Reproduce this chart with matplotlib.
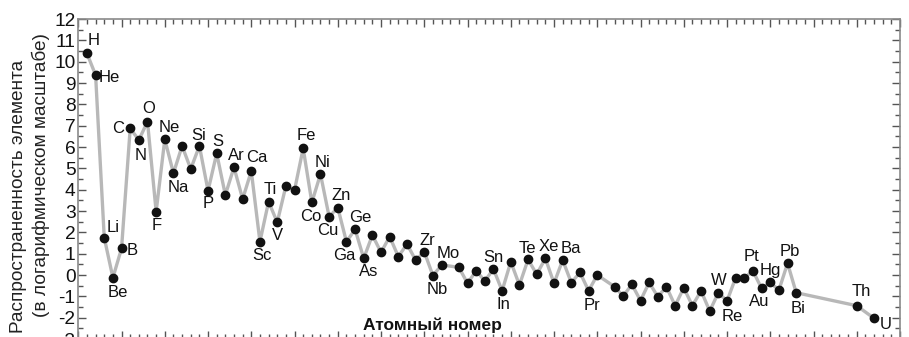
import numpy as np
import matplotlib as mpl
mpl.use("Agg")
import matplotlib.pyplot as plt
from matplotlib.ticker import MultipleLocator

# atomic number, symbol, log abundance
z = [1, 2, 3, 4, 5, 6, 7, 8, 9, 10, 11, 12, 13, 14, 15, 16, 17, 18, 19, 20,
     21, 22, 23, 24, 25, 26, 27, 28, 29, 30, 31, 32, 33, 34, 35, 36, 37, 38, 39, 40,
     41, 42, 44, 45, 46, 47, 48, 49, 50, 51, 52, 53, 54, 55, 56, 57, 58, 59, 60,
     62, 63, 64, 65, 66, 67, 68, 69, 70, 71, 72, 73, 74, 75, 76, 77, 78, 79, 80,
     81, 82, 83, 90, 92]
symbols = ["H", "He", "Li", "Be", "B", "C", "N", "O", "F", "Ne", "Na", "Mg", "Al", "Si",
           "P", "S", "Cl", "Ar", "K", "Ca", "Sc", "Ti", "V", "Cr", "Mn", "Fe", "Co", "Ni",
           "Cu", "Zn", "Ga", "Ge", "As", "Se", "Br", "Kr", "Rb", "Sr", "Y", "Zr", "Nb",
           "Mo", "Ru", "Rh", "Pd", "Ag", "Cd", "In", "Sn", "Sb", "Te", "I", "Xe", "Cs",
           "Ba", "La", "Ce", "Pr", "Nd", "Sm", "Eu", "Gd", "Tb", "Dy", "Ho", "Er", "Tm",
           "Yb", "Lu", "Hf", "Ta", "W", "Re", "Os", "Ir", "Pt", "Au", "Hg", "Tl", "Pb",
           "Bi", "Th", "U"]
abund = [10.39, 9.37, 1.75, -0.13, 1.25, 6.87, 6.33, 7.19, 2.97, 6.36, 4.77, 6.05, 4.97,
         6.05, 3.95, 5.70, 3.75, 5.05, 3.56, 4.87, 1.56, 3.44, 2.47, 4.17, 3.98, 5.94,
         3.40, 4.73, 2.73, 3.16, 1.56, 2.14, 0.78, 1.87, 1.06, 1.80, 0.86, 1.45, 0.70,
         1.09, -0.03, 0.47, 0.36, -0.39, 0.20, -0.28, 0.28, -0.74, 0.62, -0.47, 0.73,
         0.03, 0.78, -0.39, 0.70, -0.36, 0.12, -0.74, 0.00, -0.55, -0.99, -0.44, -1.20,
         -0.35, -1.02, -0.55, -1.44, -0.60, -1.44, -0.74, -1.69, -0.83, -1.22, -0.13,
         -0.13, 0.19, -0.63, -0.35, -0.71, 0.55, -0.83, -1.44, -2.03]

ytick_vals = list(range(-3, 13))
ytick_labels = [str(v) for v in ytick_vals]  # plain hyphen, as in the original

# label offsets in pixels (dx, dy), only the labelled elements
label_offsets = {
    "H": (6.5, 12.6), "He": (14, -2.7), "Li": (9, 9.7), "Be": (4.6, -14.3),
    "B": (11, -1.7), "C": (-12, 0), "N": (2, -15.8), "O": (0.8, 13.4),
    "F": (0.5, -14.3), "Ne": (4.2, 11.8), "Na": (4.5, -14.7), "Si": (-1, 10.2),
    "P": (0, -12.6), "S": (1, 11.6), "Ar": (2.7, 11.5), "Ca": (5.4, 13.5),
    "Sc": (2.5, -13.3), "Ti": (1.4, 11.7), "V": (0, -13.5), "Fe": (3.5, 12.5),
    "Co": (-1, -13.7), "Ni": (2, 11.5), "Cu": (-1, -13.3), "Zn": (3, 11.9),
    "Ga": (-2.5, -13.3), "Ge": (5, 11.8), "As": (4.5, -13.4), "Zr": (3.2, 10.9),
    "Nb": (4.5, -14.3), "Mo": (6.7, 11.7), "Sn": (-17.5, 4.2), "In": (1.7, -13.3),
    "Te": (-0.6, 11), "Xe": (3.6, 11.6), "Ba": (8.1, 11.7), "Pr": (3.8, -15.1),
    "W": (0, 12.7), "Re": (5.5, -15.7), "Pt": (-1.3, 14.3), "Au": (-2.6, -13.4),
    "Hg": (0.5, 12.3), "Pb": (2.4, 11.6), "Bi": (2, -15.6), "Th": (4.9, 14),
    "U": (11.7, -5.7),
}

plt.rcParams['font.family'] = ['Liberation Sans', 'DejaVu Sans']

W, H = 909, 337
fig = plt.figure(figsize=(W / 100, H / 100), dpi=100)
ax = fig.add_axes([78.3 / W, -2 / H, (900 - 78.3) / W, 320 / H])

ax.plot(z, abund, color='#b8b8b8', linewidth=2.4, zorder=2)
ax.plot(z, abund, linestyle='none', marker='o', markersize=6.0,
        color='#111111', zorder=3)

for zi, sym, v in zip(z, symbols, abund):
    if sym in label_offsets:
        dx, dy = label_offsets[sym]
        ax.annotate(sym, xy=(zi, v), xytext=(dx, dy), textcoords='offset pixels',
                    ha='center', va='center', fontsize=12, color='#111111', zorder=4)

ax.set_xlim(0, 95)
ax.set_ylim(-3, 12)
ax.xaxis.set_major_locator(MultipleLocator(5))
ax.xaxis.set_minor_locator(MultipleLocator(1))
ax.set_yticks(ytick_vals)
ax.set_yticklabels(ytick_labels)
ax.yaxis.set_minor_locator(MultipleLocator(0.5))
ax.tick_params(axis='both', which='both', direction='in', top=True, right=True,
               color='#555555', width=1)
ax.tick_params(axis='both', which='major', length=6)
ax.tick_params(axis='both', which='minor', length=3.5)
ax.tick_params(axis='x', which='both', labelbottom=False)
ax.tick_params(axis='y', which='major', labelsize=13.8, pad=2, labelcolor='#111111')
for sp in ax.spines.values():
    sp.set_color('#8a8a8a')
    sp.set_linewidth(1.2)

# y label as two separate rotated lines, like the original
fig.text(19 / W, 1 - 196 / H, "Распространенность элемента", rotation=90,
         ha='center', va='center', fontsize=13.7, color='#222222')
fig.text(41 / W, 1 - 175 / H, "(в логарифмическом масштабе)", rotation=90,
         ha='center', va='center', fontsize=13.7, color='#222222')

ax.text((432 - 78.3) / (900 - 78.3), 0.043, "Атомный номер",
        transform=ax.transAxes, ha='center', va='center', fontsize=12.5,
        fontweight='bold', color='#111111')

fig.savefig('out.png', dpi=100)
